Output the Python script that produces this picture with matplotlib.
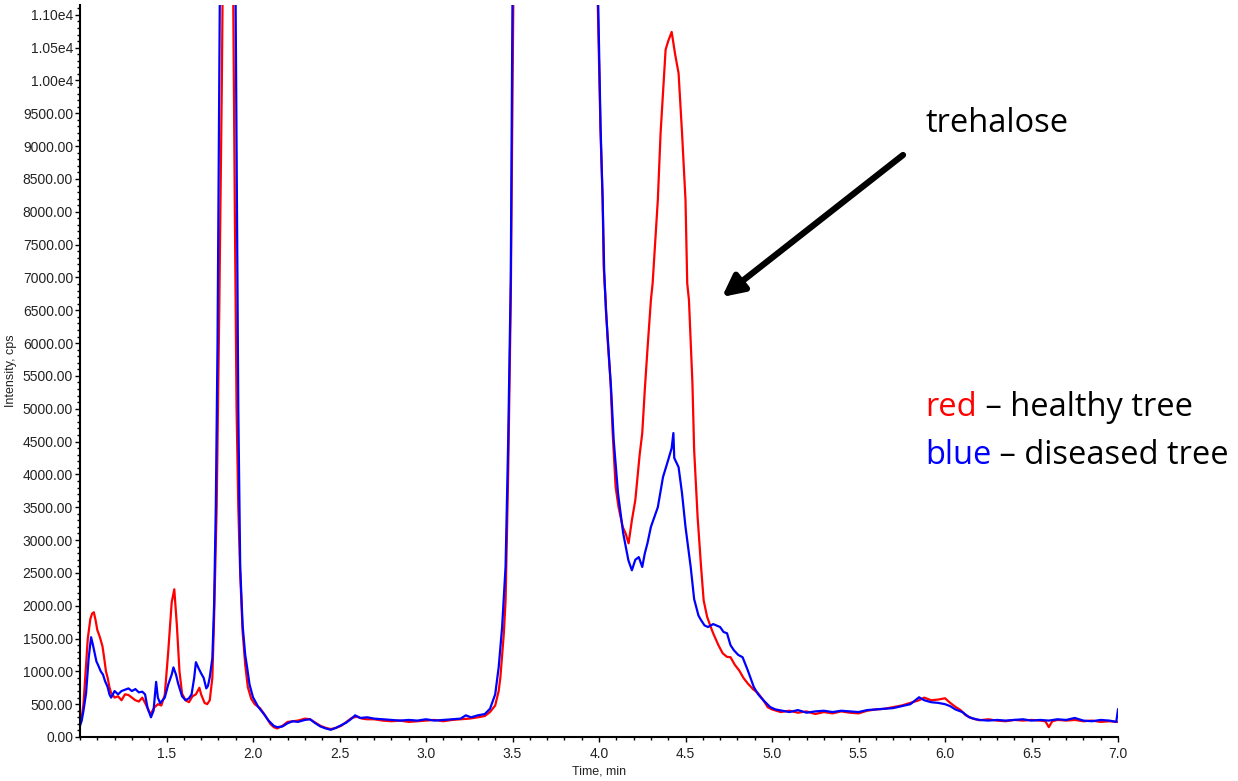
import matplotlib.pyplot as plt
from matplotlib.ticker import MultipleLocator, FixedLocator

# healthy tree (red)
t_red = [1.00, 1.01, 1.02, 1.03, 1.045, 1.06, 1.07, 1.08, 1.09, 1.10, 1.115, 1.13, 1.14, 1.15, 1.16,
         1.17, 1.18, 1.19, 1.20, 1.22, 1.24, 1.26, 1.28, 1.30, 1.32, 1.34, 1.36, 1.38, 1.40, 1.41,
         1.43, 1.45, 1.47, 1.49, 1.51, 1.53, 1.545, 1.56, 1.575, 1.59, 1.61, 1.63, 1.65, 1.67, 1.69,
         1.70, 1.72, 1.735, 1.75, 1.765, 1.775, 1.79, 1.805, 1.82, 1.83, 1.855, 1.885, 1.895, 1.905,
         1.915, 1.926, 1.94, 1.955, 1.97, 1.99, 2.01, 2.04, 2.07, 2.10, 2.12, 2.14, 2.17, 2.20, 2.23,
         2.26, 2.30, 2.33, 2.36, 2.39, 2.42, 2.45, 2.48, 2.51, 2.54, 2.57, 2.60, 2.63, 2.66, 2.70,
         2.75, 2.80, 2.85, 2.90, 2.95, 3.00, 3.05, 3.10, 3.15, 3.20, 3.25, 3.30, 3.34, 3.37, 3.40,
         3.42, 3.43, 3.45, 3.46, 3.475, 3.49, 3.505, 3.52, 3.75, 3.97, 3.99, 4.009, 4.021, 4.027,
         4.038, 4.05, 4.067, 4.079, 4.096, 4.113, 4.137, 4.154, 4.171, 4.19, 4.21, 4.235, 4.25,
         4.265, 4.28, 4.30, 4.31, 4.34, 4.356, 4.385, 4.40, 4.42, 4.44, 4.46, 4.48, 4.50, 4.51,
         4.52, 4.54, 4.55, 4.57, 4.59, 4.605, 4.625, 4.646, 4.66, 4.69, 4.715, 4.74, 4.76, 4.785,
         4.81, 4.835, 4.86, 4.89, 4.92, 4.95, 4.975, 5.00, 5.05, 5.10, 5.15, 5.20, 5.25, 5.30,
         5.35, 5.40, 5.45, 5.50, 5.55, 5.60, 5.65, 5.70, 5.75, 5.80, 5.85, 5.88, 5.92, 5.96, 6.00,
         6.03, 6.06, 6.09, 6.12, 6.16, 6.20, 6.25, 6.30, 6.35, 6.40, 6.45, 6.50, 6.55, 6.58, 6.60,
         6.62, 6.65, 6.70, 6.75, 6.80, 6.85, 6.90, 6.95, 7.00]
i_red = [230, 300, 500, 900, 1500, 1800, 1880, 1900, 1780, 1630, 1520, 1380, 1200, 1000, 900,
         760, 670, 640, 600, 620, 560, 650, 640, 600, 560, 540, 600, 500, 380, 360,
         450, 500, 480, 640, 1300, 2050, 2250, 1700, 1000, 660, 560, 530, 620, 650, 750,
         650, 520, 500, 560, 900, 1800, 3500, 6500, 10000, 13000, 30000, 11500, 8000, 5000,
         3500, 2490, 1600, 1100, 760, 580, 500, 440, 330, 200, 150, 130, 170, 230, 240,
         250, 280, 270, 220, 170, 140, 120, 140, 170, 230, 290, 310, 280, 270, 270,
         250, 240, 250, 230, 240, 250, 260, 240, 260, 270, 280, 300, 320, 380, 480,
         700, 910, 1580, 2080, 4000, 6650, 11300, 20000, 60000, 20000, 11500, 9200, 8180, 7160,
         6660, 6050, 5390, 4630, 3810, 3500, 3200, 3100, 2950, 3300, 3610, 4300, 4630,
         5300, 5900, 6655, 6910, 8180, 9200, 10470, 10600, 10740, 10400, 10110, 9200, 8180, 6910,
         6655, 5390, 4370, 3350, 2590, 2080, 1830, 1675, 1580, 1400, 1275, 1220, 1215, 1100,
         1015, 900, 815, 730, 665, 560, 455, 420, 380, 400, 370, 390, 350, 380,
         360, 390, 370, 360, 400, 420, 430, 455, 480, 520, 560, 600, 560, 570, 590,
         520, 460, 410, 330, 280, 255, 270, 250, 240, 260, 250, 260, 250, 240, 150,
         240, 260, 250, 260, 240, 250, 230, 240, 230]

# diseased tree (blue)
t_blue = [1.00, 1.01, 1.02, 1.035, 1.05, 1.064, 1.075, 1.087, 1.095, 1.104, 1.12, 1.133, 1.145,
          1.16, 1.17, 1.18, 1.20, 1.22, 1.24, 1.26, 1.28, 1.30, 1.32, 1.34, 1.36, 1.376, 1.39,
          1.41, 1.425, 1.44, 1.45, 1.463, 1.49, 1.51, 1.53, 1.54, 1.555, 1.567, 1.59, 1.61, 1.63,
          1.645, 1.66, 1.67, 1.685, 1.70, 1.715, 1.73, 1.74, 1.75, 1.765, 1.775, 1.785, 1.795,
          1.805, 1.815, 1.855, 1.895, 1.905, 1.915, 1.926, 1.94, 1.955, 1.966, 1.98, 2.00, 2.03,
          2.06, 2.09, 2.12, 2.14, 2.17, 2.20, 2.23, 2.26, 2.30, 2.33, 2.36, 2.39, 2.42, 2.45,
          2.48, 2.51, 2.54, 2.57, 2.59, 2.62, 2.66, 2.70, 2.75, 2.80, 2.85, 2.90, 2.95, 3.00,
          3.05, 3.10, 3.15, 3.20, 3.23, 3.26, 3.30, 3.34, 3.37, 3.40, 3.42, 3.44, 3.46, 3.475,
          3.49, 3.50, 3.52, 3.75, 3.98, 3.993, 4.009, 4.021, 4.03, 4.04, 4.055, 4.07, 4.085,
          4.11, 4.14, 4.17, 4.19, 4.21, 4.23, 4.25, 4.265, 4.28, 4.30, 4.32, 4.34, 4.37, 4.40,
          4.42, 4.43, 4.435, 4.46, 4.48, 4.50, 4.53, 4.55, 4.575, 4.59, 4.61, 4.63, 4.66, 4.70,
          4.72, 4.74, 4.76, 4.78, 4.805, 4.83, 4.86, 4.895, 4.92, 4.95, 4.99, 5.02, 5.05, 5.10,
          5.15, 5.20, 5.25, 5.30, 5.35, 5.40, 5.45, 5.50, 5.55, 5.60, 5.65, 5.70, 5.75, 5.80,
          5.85, 5.88, 5.92, 5.96, 6.00, 6.03, 6.06, 6.10, 6.14, 6.18, 6.20, 6.25, 6.30, 6.35,
          6.40, 6.45, 6.50, 6.55, 6.60, 6.65, 6.70, 6.75, 6.80, 6.85, 6.90, 6.95, 6.99, 7.00]
i_blue = [170, 250, 400, 665, 1200, 1520, 1400, 1250, 1150, 1100, 1000, 950, 850,
          760, 650, 600, 700, 650, 700, 720, 740, 700, 730, 680, 690, 650, 450,
          300, 400, 840, 600, 515, 600, 800, 950, 1060, 950, 815, 620, 560, 590,
          650, 900, 1140, 1050, 970, 900, 740, 780, 910, 1200, 2000, 3500, 6000,
          10000, 14000, 30000, 13000, 9000, 5000, 2590, 1700, 1250, 1060, 800, 605, 460,
          360, 250, 170, 150, 160, 210, 240, 230, 260, 270, 210, 160, 130, 110,
          140, 180, 220, 280, 330, 290, 300, 280, 270, 260, 250, 260, 250, 270,
          250, 260, 270, 280, 330, 300, 330, 350, 430, 650, 1060, 1675, 2600, 4500,
          7000, 11300, 20000, 60000, 20000, 11500, 9300, 8200, 7100, 6500, 5900, 5300, 4520,
          3710, 3100, 2690, 2540, 2700, 2740, 2590, 2800, 2950, 3200, 3350, 3500, 3960, 4220,
          4400, 4630, 4250, 4110, 3710, 3200, 2590, 2100, 1850, 1780, 1700, 1675, 1720, 1675,
          1600, 1580, 1400, 1320, 1250, 1215, 1015, 760, 650, 560, 455, 420, 405, 380,
          410, 370, 390, 400, 380, 400, 390, 380, 410, 420, 430, 440, 470, 500,
          605, 560, 530, 520, 500, 470, 420, 380, 300, 270, 260, 250, 260, 250,
          260, 270, 250, 260, 250, 270, 260, 290, 250, 240, 260, 250, 230, 420]

x_ticks = [1.5, 2.0, 2.5, 3.0, 3.5, 4.0, 4.5, 5.0, 5.5, 6.0, 6.5, 7.0]
y_ticks = [0, 500, 1000, 1500, 2000, 2500, 3000, 3500, 4000, 4500, 5000, 5500, 6000, 6500,
           7000, 7500, 8000, 8500, 9000, 9500, 10000, 10500, 11000]
y_labels = ['0.00', '500.00', '1000.00', '1500.00', '2000.00', '2500.00', '3000.00', '3500.00',
            '4000.00', '4500.00', '5000.00', '5500.00', '6000.00', '6500.00', '7000.00', '7500.00',
            '8000.00', '8500.00', '9000.00', '9500.00', '1.00e4', '1.05e4', '1.10e4']

plt.rcParams['font.family'] = ['Liberation Sans', 'DejaVu Sans']

fig = plt.figure(figsize=(12.38, 7.81), dpi=100)
ax = fig.add_axes([80 / 1238, 44 / 781, 1038 / 1238, 732 / 781])

ax.plot(t_red, i_red, color='red', lw=1.6)
ax.plot(t_blue, i_blue, color='blue', lw=1.6)

ax.set_xlim(1.0, 7.0)
ax.set_ylim(0, 11150)

for s in ['top', 'right']:
    ax.spines[s].set_visible(False)
for s in ['left', 'bottom']:
    ax.spines[s].set_linewidth(1.5)

ax.xaxis.set_major_locator(FixedLocator(x_ticks))
ax.set_xticklabels([f'{v:.1f}' for v in x_ticks])
ax.xaxis.set_minor_locator(MultipleLocator(0.1))
ax.yaxis.set_major_locator(FixedLocator(y_ticks))
ax.set_yticklabels(y_labels)
ax.yaxis.set_minor_locator(MultipleLocator(100))
ax.tick_params(which='major', length=3.5, width=1, labelsize=10, labelcolor='#222222', pad=1.5)
ax.tick_params(which='minor', length=2, width=1)
ax.tick_params(axis='x', which='major', pad=4)

ax.set_xlabel('Time, min', fontsize=9, color='#222222', labelpad=3)
ax.set_ylabel('Intensity, cps', fontsize=9, color='#222222', labelpad=4)

# annotations, Calibri-like
fnt = 'Open Sans'
fs = 23.5
fig.text(925, 781 - 132, 'trehalose', fontsize=fs, family=fnt, ha='left', va='baseline',
         transform=None)

ax.annotate('', xy=(722, 781 - 297), xycoords='figure pixels',
            xytext=(903, 781 - 155), textcoords='figure pixels',
            arrowprops=dict(arrowstyle='-|>', lw=4.5, color='black', mutation_scale=32,
                            shrinkA=0, shrinkB=0))

r1 = ax.annotate('red', xy=(925, 781 - 424), xycoords='figure pixels', fontsize=fs,
                 family=fnt, color='red', ha='left', va='bottom')
ax.annotate(' \u2013 healthy tree', xy=(1, 0), xycoords=r1, fontsize=fs, family=fnt,
            color='black', ha='left', va='bottom')
b1 = ax.annotate('blue', xy=(925, 781 - 472), xycoords='figure pixels', fontsize=fs,
                 family=fnt, color='blue', ha='left', va='bottom')
ax.annotate(' \u2013 diseased tree', xy=(1, 0), xycoords=b1, fontsize=fs, family=fnt,
            color='black', ha='left', va='bottom')

fig.savefig('out.png', dpi=100)
